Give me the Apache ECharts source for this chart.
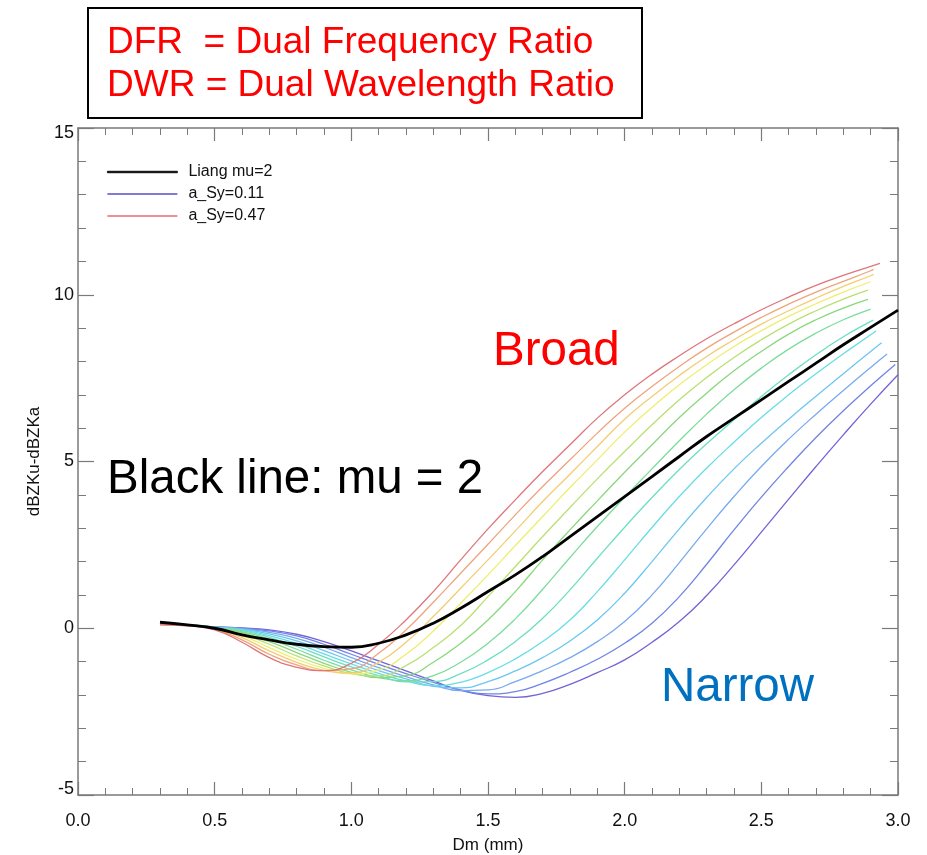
<!DOCTYPE html>
<html>
<head>
<meta charset="utf-8">
<script src="https://cdn.jsdelivr.net/npm/echarts@6/dist/echarts.min.js"></script>
<style>
html,body{margin:0;padding:0;background:#fff;}
#chart{width:927px;height:855px;}
</style>
</head>
<body>
<div id="chart"></div>
<script>
// Dm grid (mm)
const dm = [0.3,0.4,0.5,0.6,0.7,0.8,0.9,1.0,1.1,1.2,1.3,1.4,1.5,1.6,1.7,1.8,1.9,2.0,2.1,2.2,2.3,2.4,2.5,2.6,2.7,2.8,2.9,3.0];

// Liang mu=2 (black)
const liang = [0.18,0.10,0.00,-0.20,-0.35,-0.48,-0.55,-0.57,-0.45,-0.20,0.15,0.60,1.10,1.60,2.15,2.75,3.35,3.95,4.55,5.15,5.75,6.30,6.85,7.40,7.95,8.50,9.02,9.54];

// a_Sy curves (values on dm grid, then a final end point)
const sy011 = [0.15,0.10,0.04,0.01,-0.05,-0.18,-0.40,-0.68,-0.98,-1.28,-1.58,-1.86,-2.02,-2.07,-1.95,-1.68,-1.33,-0.95,-0.42,0.20,0.98,1.90,2.88,3.87,4.85,5.80,6.72];
const sy014 = [0.15,0.10,0.04,0.00,-0.08,-0.23,-0.48,-0.78,-1.08,-1.36,-1.62,-1.85,-1.97,-1.90,-1.65,-1.32,-0.93,-0.45,0.15,0.95,1.92,2.95,3.93,4.85,5.72,6.52,7.27];
const sy017 = [0.15,0.10,0.04,-0.02,-0.12,-0.30,-0.57,-0.88,-1.18,-1.45,-1.70,-1.87,-1.85,-1.60,-1.27,-0.88,-0.40,0.20,1.00,1.97,2.98,3.95,4.85,5.67,6.42,7.13,7.82];
const sy020 = [0.15,0.11,0.03,-0.03,-0.17,-0.38,-0.67,-0.98,-1.27,-1.52,-1.74,-1.79,-1.60,-1.28,-0.88,-0.38,0.25,1.05,2.00,2.98,3.92,4.78,5.55,6.27,6.96,7.63,8.30];
const sy023 = [0.14,0.11,0.03,-0.05,-0.22,-0.46,-0.77,-1.07,-1.35,-1.58,-1.72,-1.62,-1.33,-0.92,-0.40,0.25,1.10,2.05,3.02,3.95,4.80,5.58,6.32,7.00,7.63,8.23,8.80];
const sy026 = [0.14,0.11,0.02,-0.07,-0.27,-0.54,-0.86,-1.16,-1.42,-1.61,-1.60,-1.36,-0.95,-0.40,0.30,1.15,2.10,3.03,3.92,4.76,5.53,6.25,6.95,7.60,8.20,8.74,9.20];
const sy029 = [0.14,0.10,0.02,-0.10,-0.33,-0.63,-0.96,-1.25,-1.48,-1.57,-1.42,-1.02,-0.45,0.28,1.17,2.12,3.05,3.93,4.78,5.62,6.42,7.15,7.80,8.37,8.85,9.25];
const sy032 = [0.13,0.10,0.01,-0.13,-0.40,-0.73,-1.05,-1.32,-1.48,-1.42,-1.02,-0.45,0.25,1.10,2.05,2.95,3.82,4.68,5.50,6.32,7.05,7.72,8.30,8.82,9.25,9.60];
const sy035 = [0.13,0.09,0.00,-0.17,-0.48,-0.83,-1.13,-1.36,-1.43,-1.12,-0.58,0.08,0.95,1.85,2.75,3.62,4.48,5.30,6.10,6.85,7.52,8.12,8.65,9.12,9.52,9.87];
const sy038 = [0.12,0.09,-0.01,-0.22,-0.58,-0.93,-1.20,-1.37,-1.25,-0.78,-0.08,0.75,1.60,2.48,3.35,4.22,5.05,5.88,6.62,7.30,7.90,8.45,8.92,9.35,9.73,10.08];
const sy041 = [0.12,0.08,-0.02,-0.28,-0.68,-1.02,-1.26,-1.34,-1.02,-0.42,0.35,1.20,2.05,2.92,3.80,4.62,5.45,6.27,6.95,7.58,8.15,8.65,9.12,9.52,9.90,10.25,10.57];
const sy044 = [0.11,0.08,-0.03,-0.35,-0.78,-1.10,-1.27,-1.22,-0.75,-0.05,0.78,1.65,2.52,3.40,4.25,5.05,5.85,6.60,7.25,7.85,8.40,8.88,9.32,9.72,10.08,10.40,10.72];
const sy047 = [0.10,0.07,-0.05,-0.42,-0.88,-1.17,-1.27,-1.05,-0.48,0.25,1.10,2.05,2.98,3.85,4.70,5.50,6.30,7.00,7.62,8.17,8.68,9.13,9.55,9.93,10.28,10.58,10.85];

// end points of each a_Sy curve
const syNames = ['a_Sy=0.11','a_Sy=0.14','a_Sy=0.17','a_Sy=0.20','a_Sy=0.23','a_Sy=0.26','a_Sy=0.29','a_Sy=0.32','a_Sy=0.35','a_Sy=0.38','a_Sy=0.41','a_Sy=0.44','a_Sy=0.47'];
const syEndDm  = [3.00,2.99,2.96,2.94,2.92,2.91,2.90,2.89,2.89,2.90,2.91,2.91,2.934];
const syEndVal = [7.60,7.91,8.22,8.56,8.92,9.24,9.57,9.86,10.14,10.39,10.61,10.76,10.94];
const syColors = ['#7264d6','#6f84e4','#78aaee','#6cc6f0','#68dde6','#6cdfc0','#7cdc9c','#88d87c','#b9e072','#eeee70','#f4cc72','#eea47c','#de767c'];

// tick labels
const xTicks = ['0.0','0.5','1.0','1.5','2.0','2.5','3.0'];
const yTicks = ['-5','0','5','10','15'];

const syValues = [sy011,sy014,sy017,sy020,sy023,sy026,sy029,sy032,sy035,sy038,sy041,sy044,sy047];

const series = syValues.map(function(vals, k){
  const data = vals.map(function(v,j){ return [dm[j], v]; });
  const last = data[data.length-1];
  if (Math.abs(last[0]-syEndDm[k])>1e-9) data.push([syEndDm[k], syEndVal[k]]);
  else last[1] = syEndVal[k];
  return {
    name: syNames[k], type:'line', data: data, symbol:'none', showSymbol:false, smooth:0.5,
    lineStyle:{color: syColors[k], width:1.3}, itemStyle:{color: syColors[k]},
    silent:true, z:2
  };
});
series.push({
  name:'Liang mu=2', type:'line', symbol:'none', showSymbol:false, smooth:0.5,
  data: liang.map(function(v,j){ return [dm[j], v]; }),
  lineStyle:{color:'#000', width:2.8}, itemStyle:{color:'#000'}, z:5, silent:true
});

const axisFont = '"Liberation Sans Narrow","Liberation Sans",Arial,sans-serif';
const axisColor = '#7a7a7a';

function xAx(pos, labels){
  return {
    type:'value', position:pos, min:0, max:3, interval:0.5,
    axisLine:{show:true, onZero:false, lineStyle:{color:axisColor, width:1.5}},
    axisTick:{show:true, inside:true, length:13, lineStyle:{color:axisColor, width:1.2}},
    minorTick:{show:true, splitNumber:5, length:7, lineStyle:{color:axisColor, width:1}},
    splitLine:{show:false},
    axisLabel:{show:labels, margin:17, fontSize:18, color:'#111', fontFamily:axisFont,
      formatter:function(v){ const i=Math.round(v/0.5); return xTicks[i]; }},
    name: labels ? 'Dm (mm)' : '', nameLocation:'middle', nameGap:42,
    nameTextStyle:{fontSize:17, color:'#111', fontFamily:axisFont}
  };
}
function yAx(pos, labels){
  return {
    type:'value', position:pos, min:-5, max:15, interval:5,
    axisLine:{show:true, onZero:false, lineStyle:{color:axisColor, width:1.5}},
    axisTick:{show:true, inside:true, length:16, lineStyle:{color:axisColor, width:1.2}},
    minorTick:{show:true, splitNumber:5, length:8, lineStyle:{color:axisColor, width:1}},
    splitLine:{show:false},
    axisLabel:{show:labels, margin:4, fontSize:18, color:'#111', fontFamily:axisFont,
      formatter:function(v){
        const i=Math.round((v+5)/5);
        if (i===yTicks.length-1) return '{top|'+yTicks[i]+'}';
        if (i===0) return '{bot|'+yTicks[i]+'}';
        return yTicks[i];
      },
      rich:{
        top:{fontSize:18, color:'#111', fontFamily:axisFont, padding:[11,0,0,0]},
        bot:{fontSize:18, color:'#111', fontFamily:axisFont, padding:[0,0,11,0]}
      }},
    name: labels ? 'dBZKu-dBZKa' : '', nameLocation:'middle', nameGap:32, nameRotate:90,
    nameTextStyle:{fontSize:17, color:'#111', fontFamily:axisFont}
  };
}

const chart = echarts.init(document.getElementById('chart'), null, {renderer:'canvas'});
chart.setOption({
  animation:false,
  backgroundColor:'#fff',
  grid:{left:78, right:29, top:128, bottom:60, containLabel:false, outerBoundsMode:'none'},
  xAxis:[xAx('bottom', true), xAx('top', false)],
  yAxis:[yAx('left', true), yAx('right', false)],
  legend:{
    data:[
      {name:'Liang mu=2', icon:'rect', itemStyle:{color:'#000', borderColor:'#000', borderWidth:0.8}},
      {name:'a_Sy=0.11', icon:'rect', itemStyle:{color:'#5a4ec8', borderWidth:0}},
      {name:'a_Sy=0.47', icon:'rect', itemStyle:{color:'#e86a70', borderWidth:0}}
    ],
    orient:'vertical', left:102, top:159, itemWidth:70, itemHeight:1.5, itemGap:6,
    textStyle:{fontSize:16, color:'#111', fontFamily:axisFont, padding:[0,0,0,6]},
    selectedMode:false
  },
  series: series,
  graphic:[
    {type:'rect', shape:{x:88, y:8, width:554, height:110}, style:{fill:'#fff', stroke:'#000', lineWidth:2}},
    {type:'text', x:107, y:43, style:{text:'DFR  = Dual Frequency Ratio', fill:'#ff0000', font:'37px "Liberation Sans",Arial,sans-serif', textVerticalAlign:'middle'}},
    {type:'text', x:107, y:86, style:{text:'DWR = Dual Wavelength Ratio', fill:'#ff0000', font:'37px "Liberation Sans",Arial,sans-serif', textVerticalAlign:'middle'}},
    {type:'text', x:493, y:352, z:10, style:{text:'Broad', fill:'#ff0000', font:'47.5px "Liberation Sans",Arial,sans-serif', textVerticalAlign:'middle'}},
    {type:'text', x:661, y:688, z:10, style:{text:'Narrow', fill:'#0070c0', font:'47.5px "Liberation Sans",Arial,sans-serif', textVerticalAlign:'middle'}},
    {type:'text', x:107, y:480, z:10, style:{text:'Black line: mu = 2', fill:'#000', font:'47.5px "Liberation Sans",Arial,sans-serif', textVerticalAlign:'middle'}}
  ]
});
</script>
</body>
</html>
